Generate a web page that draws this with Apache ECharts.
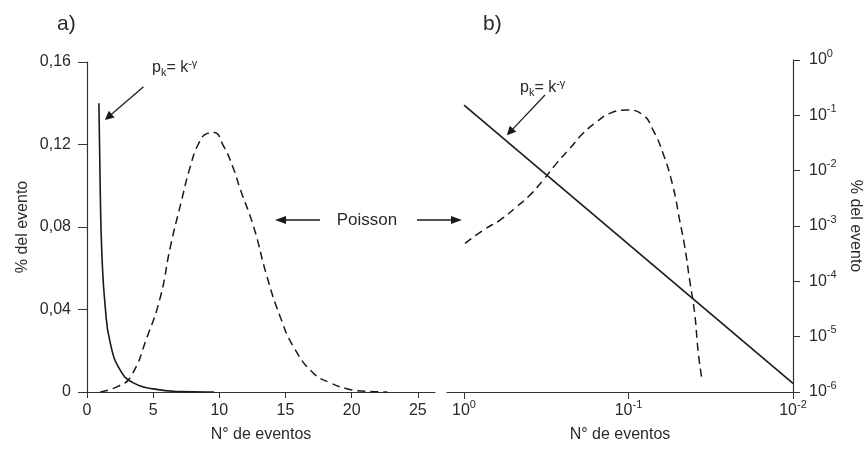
<!DOCTYPE html>
<html>
<head>
<meta charset="utf-8">
<script src="https://cdn.jsdelivr.net/npm/echarts@6/dist/echarts.min.js"></script>
<style>
  html, body { margin: 0; background: #fff; }
  #chart { width: 864px; height: 450px; }
</style>
</head>
<body>
<div id="chart"></div>
<script>
// a) escala lineal
const leftPowerX = [0.9, 1.0, 1.13, 1.38, 1.75, 2.5, 3.5, 5.0, 7.0, 9.0, 9.6];
const leftPowerY = [0.140, 0.098, 0.066, 0.041, 0.024, 0.0107, 0.0044, 0.0015, 0.0002, 0, 0];
const leftPoissonX = [1.0, 2.3, 3.3, 4.55, 5.55, 6.3, 7.1, 7.8, 8.45, 9.1, 9.6, 10.3, 11.0, 11.6, 12.6, 13.6, 14.6, 15.6, 17.1, 18.4, 19.7, 20.7, 22.7];
const leftPoissonY = [0, 0.0026, 0.0074, 0.0268, 0.0462, 0.0704, 0.0916, 0.1092, 0.1206, 0.1254, 0.1258, 0.1195, 0.1095, 0.098, 0.080, 0.056, 0.0365, 0.022, 0.0092, 0.0044, 0.0015, 0.0005, 0];
const leftXTicks = [0, 5, 10, 15, 20, 25];

// b) escala log-log
const rightPowerX = [1, 0.01];
const rightPowerY = [0.153, 1.43e-6];
const rightPoissonX = [0.986, 0.764, 0.604, 0.479, 0.397, 0.330, 0.274, 0.227, 0.189, 0.156, 0.130, 0.103, 0.0815, 0.0709, 0.0617, 0.0536, 0.0489, 0.0455, 0.0425, 0.0396, 0.0378, 0.0360];
const rightPoissonY = [4.84e-4, 8.43e-4, 1.28e-3, 2.22e-3, 3.62e-3, 6.76e-3, 0.01355, 0.0253, 0.0473, 0.0766, 0.1087, 0.1247, 0.1012, 0.0542, 0.0206, 5.12e-3, 1.28e-3, 4.2e-4, 1.05e-4, 2.63e-5, 5.7e-6, 1.88e-6];
const rightXTicks = [1, 0.1, 0.01];
const rightYTicks = [1, 1e-1, 1e-2, 1e-3, 1e-4, 1e-5, 1e-6];

// flechas de la anotación p_k (coordenadas de datos)
const leftArrow = [[4.27, 0.148], [1.61, 0.1333]];
const rightArrow = [[0.322, 0.233], [0.526, 0.0499]];

const pairs = (xs, ys) => xs.map((x, i) => [x, ys[i]]);
const FONT = '"Liberation Sans", Arial, sans-serif';
const INK = '#1a1a1a';
const TXT = '#2a2a2a';

const supLabel = v => {
    const e = Math.round(Math.log10(v));
    return '{b|10}{s|' + e + '}';
};
const supRich = {
    b: { fontSize: 16, fontFamily: FONT, color: TXT, lineHeight: 24 },
    s: { fontSize: 11, fontFamily: FONT, color: TXT, lineHeight: 10, verticalAlign: 'top' }
};
const pkRich = {
    n: { fontSize: 16, fontFamily: FONT, fill: TXT, lineHeight: 20 },
    sub: { fontSize: 11, fontFamily: FONT, fill: TXT, lineHeight: 12, verticalAlign: 'bottom' },
    sup: { fontSize: 11, fontFamily: FONT, fill: TXT, lineHeight: 10, verticalAlign: 'top' }
};

const axisLine = { lineStyle: { color: '#333', width: 1.2 } };
const arrowLine = (from, to) => ({
    silent: true,
    symbol: ['none', 'triangle'],
    symbolSize: 9,
    label: { show: false },
    lineStyle: { color: INK, width: 1.2, type: 'solid' },
    data: [[{ coord: from }, { coord: to }]]
});

const chart = echarts.init(document.getElementById('chart'));
chart.setOption({
    animation: false,
    backgroundColor: '#fff',
    textStyle: { fontFamily: FONT },
    grid: [
        { left: 87, top: 62, width: 348, height: 330, outerBoundsMode: 'none' },
        { left: 447, top: 60, width: 346, height: 332, outerBoundsMode: 'none' }
    ],
    xAxis: [
        {
            gridIndex: 0, type: 'value', min: 0, max: 26.3,
            axisLine: axisLine, splitLine: { show: false },
            axisTick: { length: 6, lineStyle: { color: '#333' }, customValues: leftXTicks },
            axisLabel: { fontSize: 16, color: TXT, margin: 11, customValues: leftXTicks },
            name: 'N° de eventos', nameLocation: 'middle', nameGap: 35,
            nameTextStyle: { fontSize: 16, color: TXT }
        },
        {
            gridIndex: 1, type: 'log', logBase: 10, min: 0.01, max: 1.269, inverse: true,
            axisLine: axisLine, splitLine: { show: false },
            axisTick: { length: 7, lineStyle: { color: '#333' }, customValues: rightXTicks },
            axisLabel: { margin: 7, formatter: supLabel, rich: supRich, customValues: rightXTicks },
            name: 'N° de eventos', nameLocation: 'middle', nameGap: 35,
            nameTextStyle: { fontSize: 16, color: TXT }
        }
    ],
    yAxis: [
        {
            gridIndex: 0, type: 'value', min: 0, max: 0.16, interval: 0.04,
            axisLine: { show: true, lineStyle: { color: '#333', width: 1.2 } },
            splitLine: { show: false },
            axisTick: { show: true, length: 9, lineStyle: { color: '#333' } },
            axisLabel: {
                fontSize: 16, color: TXT, margin: 16,
                formatter: v => v === 0 ? '0' : v.toFixed(2).replace('.', ',')
            },
            name: '% del evento', nameLocation: 'middle', nameGap: 56,
            nameTextStyle: { fontSize: 16, color: TXT }
        },
        {
            gridIndex: 1, type: 'log', logBase: 10, min: 1e-6, max: 1, position: 'right',
            axisLine: { show: true, lineStyle: { color: '#333', width: 1.2 } },
            splitLine: { show: false },
            axisTick: { show: true, length: 7, lineStyle: { color: '#333' }, customValues: rightYTicks },
            axisLabel: { margin: 16, formatter: supLabel, rich: supRich, customValues: rightYTicks },
            name: '% del evento', nameLocation: 'middle', nameGap: 54, nameRotate: -90,
            nameTextStyle: { fontSize: 16, color: TXT }
        }
    ],
    series: [
        {
            name: 'pk', type: 'line', xAxisIndex: 0, yAxisIndex: 0,
            data: pairs(leftPowerX, leftPowerY), symbol: 'none',
            smooth: 0.5,
            lineStyle: { color: INK, width: 1.6 },
            markLine: arrowLine(leftArrow[0], leftArrow[1])
        },
        {
            name: 'Poisson', type: 'line', xAxisIndex: 0, yAxisIndex: 0,
            data: pairs(leftPoissonX, leftPoissonY), symbol: 'none',
            smooth: 0.5,
            lineStyle: { color: INK, width: 1.5, type: [8, 5] }
        },
        {
            name: 'pk log', type: 'line', xAxisIndex: 1, yAxisIndex: 1,
            data: pairs(rightPowerX, rightPowerY), symbol: 'none',
            lineStyle: { color: INK, width: 1.6 },
            markLine: arrowLine(rightArrow[0], rightArrow[1])
        },
        {
            name: 'Poisson log', type: 'line', xAxisIndex: 1, yAxisIndex: 1,
            data: pairs(rightPoissonX, rightPoissonY), symbol: 'none',
            smooth: 0.5,
            lineStyle: { color: INK, width: 1.5, type: [8, 5] }
        }
    ],
    graphic: [
        { type: 'text', left: 57, top: 14, style: { text: 'a)', fontSize: 21, fontFamily: FONT, fill: TXT } },
        { type: 'text', left: 483, top: 14, style: { text: 'b)', fontSize: 21, fontFamily: FONT, fill: TXT } },
        { type: 'text', x: 152, y: 58, style: { text: '{n|p}{sub|k}{n|= k}{sup|-γ}', rich: pkRich } },
        { type: 'text', x: 520, y: 78, style: { text: '{n|p}{sub|k}{n|= k}{sup|-γ}', rich: pkRich } },
        {
            type: 'text', x: 367, y: 220,
            style: { text: 'Poisson', fontSize: 17, fontFamily: FONT, fill: TXT, align: 'center', verticalAlign: 'middle' }
        },
        { type: 'line', shape: { x1: 320, y1: 220, x2: 283, y2: 220 }, style: { stroke: INK, lineWidth: 1.3 } },
        { type: 'polygon', shape: { points: [[275, 220], [286, 216], [286, 224]] }, style: { fill: INK } },
        { type: 'line', shape: { x1: 417, y1: 220, x2: 453, y2: 220 }, style: { stroke: INK, lineWidth: 1.3 } },
        { type: 'polygon', shape: { points: [[462, 220], [451, 216], [451, 224]] }, style: { fill: INK } }
    ]
});
</script>
</body>
</html>
